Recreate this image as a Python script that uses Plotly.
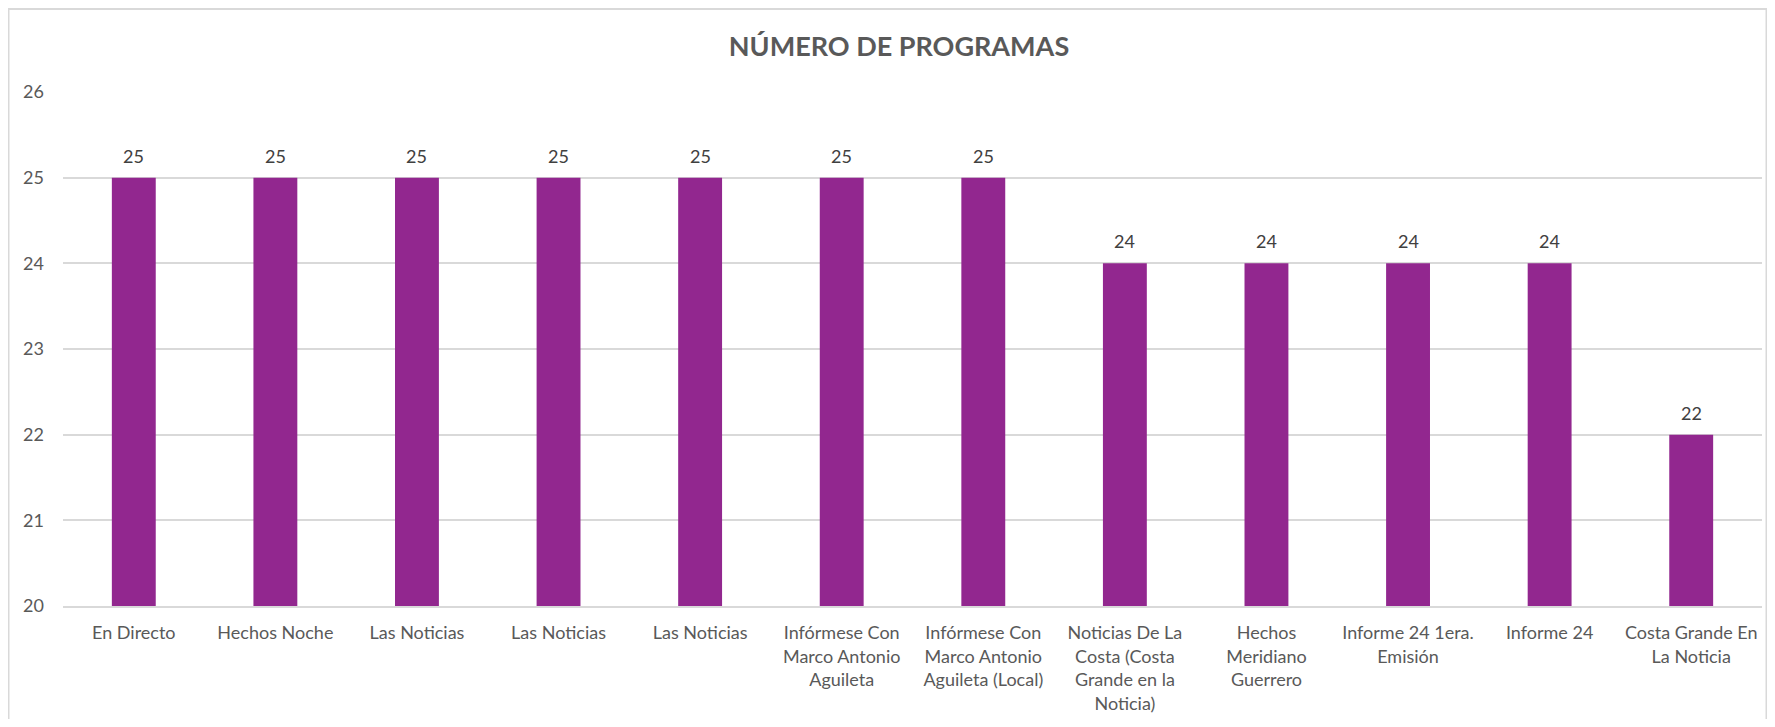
import plotly.graph_objects as go

# programme names (line breaks as in the original chart)
programas = [
    "En Directo",
    "Hechos Noche",
    "Las Noticias",
    "Las Noticias",
    "Las Noticias",
    "Infórmese Con<br>Marco Antonio<br>Aguileta",
    "Infórmese Con<br>Marco Antonio<br>Aguileta (Local)",
    "Noticias De La<br>Costa (Costa<br>Grande en la<br>Noticia)",
    "Hechos<br>Meridiano<br>Guerrero",
    "Informe 24 1era.<br>Emisión",
    "Informe 24",
    "Costa Grande En<br>La Noticia",
]
numero = [25, 25, 25, 25, 25, 25, 25, 24, 24, 24, 24, 22]
y_ticks = [20, 21, 22, 23, 24, 25, 26]

# page has an 8px body margin, so the figure is a bit smaller than the window
W, H = 1759, 711
ML, MR, MT, MB = 55, 5, 84, 113
font_fam = "Lato, Carlito, Calibri, sans-serif"
pos = list(range(len(programas)))

fig = go.Figure(go.Bar(
    x=pos, y=numero,
    marker=dict(color="#92278F", line=dict(width=0)),
    hoverinfo="x+y",
))

# value labels above the bars
for xi, v in zip(pos, numero):
    fig.add_annotation(x=xi, y=v, text=str(v), showarrow=False,
                       yshift=22, yanchor="middle",
                       font=dict(size=18, color="#404040", family=font_fam))

# chart frame (pixel -> paper conversion)
pw, ph = W - ML - MR, H - MT - MB
def px_x(v): return (v - ML) / pw
def px_y(v): return 1 - (v - MT) / ph

fig.add_shape(type="rect", xref="paper", yref="paper",
              x0=px_x(0.5), x1=px_x(W - 0.5), y0=px_y(H + 40), y1=px_y(1),
              line=dict(color="#d9d9d9", width=2), layer="below")

fig.update_layout(
    width=W, height=H,
    margin=dict(l=ML, r=MR, t=MT, b=MB),
    paper_bgcolor="white", plot_bgcolor="white",
    bargap=0.69,
    showlegend=False,
    title=dict(text="<b>NÚMERO DE PROGRAMAS</b>", x=891 / W, xref="container",
               y=1 - 39 / H, yanchor="middle", xanchor="center",
               font=dict(size=27, color="#595959", family=font_fam)),
    font=dict(family=font_fam, color="#595959", size=18),
)
fig.update_xaxes(
    tickvals=pos, ticktext=programas, tickangle=0,
    range=[-0.5, len(programas) - 0.5],
    showgrid=False, showline=True, linecolor="#d9d9d9", linewidth=1.5,
    ticks="", ticklabelstandoff=10,
    tickfont=dict(size=18, color="#595959"),
)
fig.update_yaxes(
    range=[20, 26], tickvals=y_ticks,
    showgrid=True, gridcolor="#d9d9d9", gridwidth=1.5,
    zeroline=False, showline=False, ticks="",
    ticklabelstandoff=18,
    tickfont=dict(size=18, color="#595959"),
)

fig.write_html("out.html")
